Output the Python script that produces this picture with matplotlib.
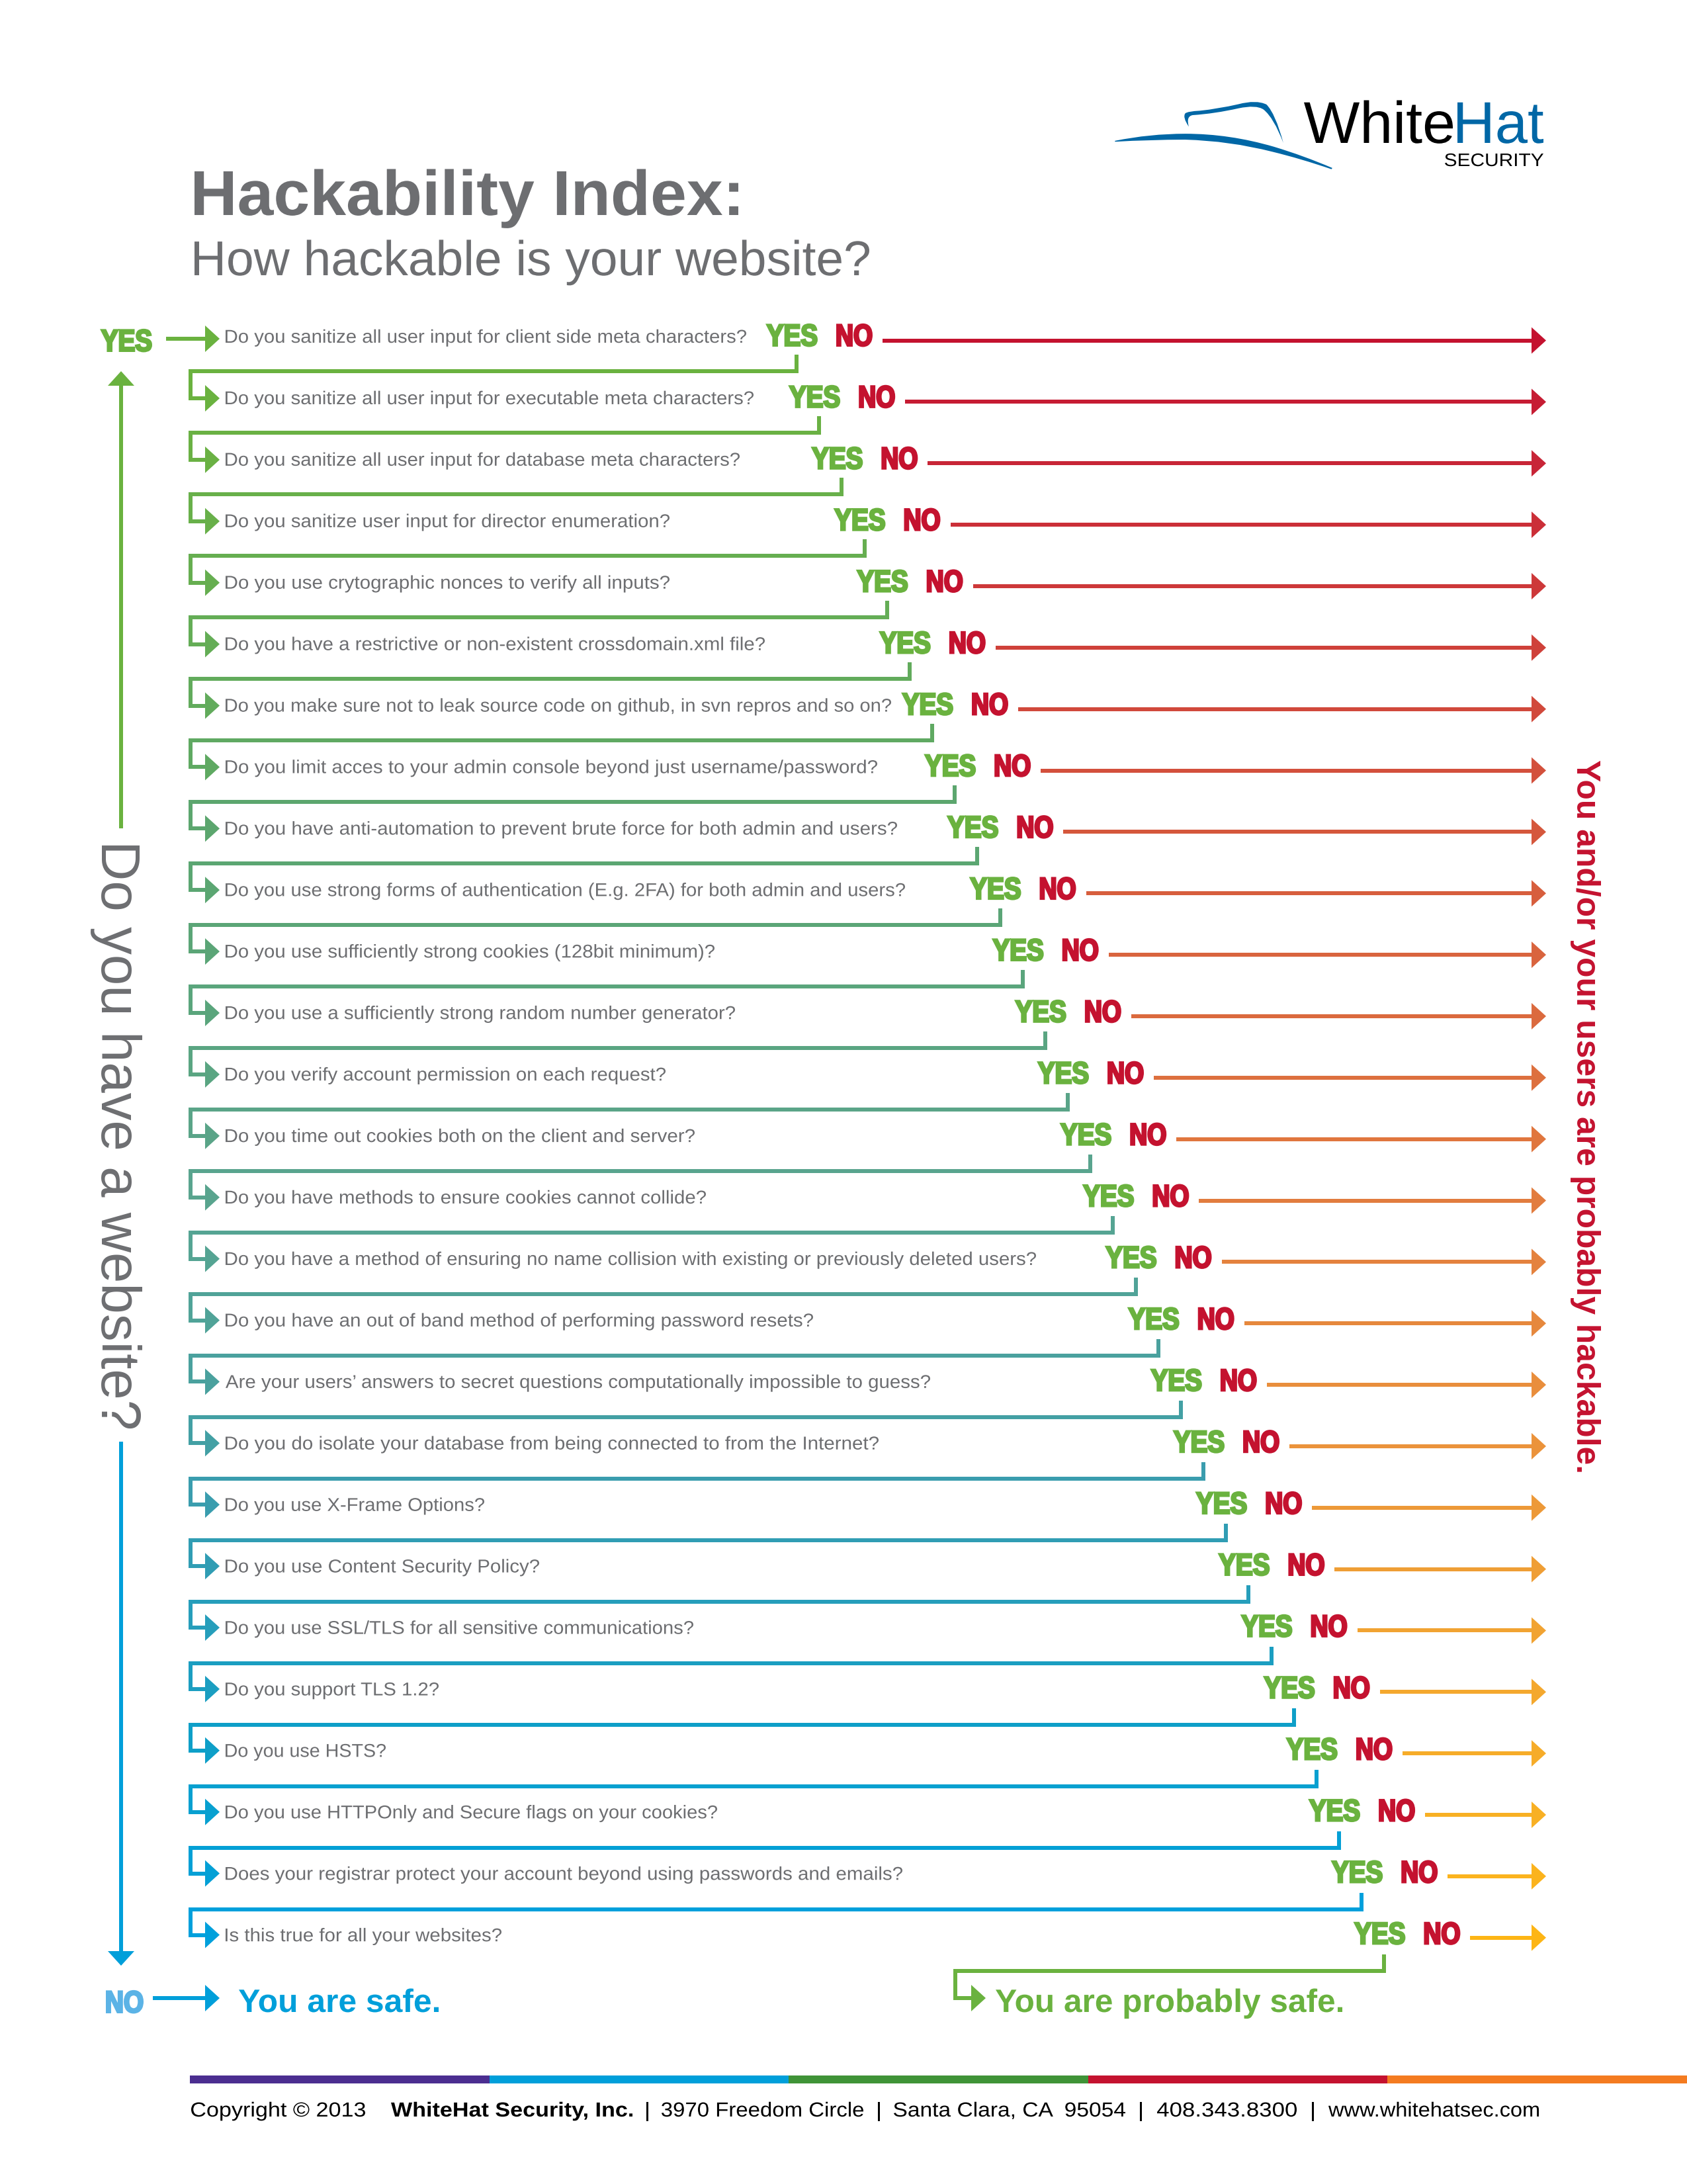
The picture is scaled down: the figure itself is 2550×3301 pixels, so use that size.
# Hackability Index flowchart, drawn on a full page axes in pixel units
import matplotlib
matplotlib.use("Agg")
import matplotlib.pyplot as plt
from matplotlib.font_manager import FontProperties
from matplotlib.patches import PathPatch, Polygon, Rectangle
from matplotlib.path import Path
from matplotlib.textpath import TextPath
from matplotlib.transforms import Affine2D
import matplotlib.patheffects as pe

questions = [
    "Do you sanitize all user input for client side meta characters?",
    "Do you sanitize all user input for executable meta characters?",
    "Do you sanitize all user input for database meta characters?",
    "Do you sanitize user input for director enumeration?",
    "Do you use crytographic nonces to verify all inputs?",
    "Do you have a restrictive or non-existent crossdomain.xml file?",
    "Do you make sure not to leak source code on github, in svn repros and so on?",
    "Do you limit acces to your admin console beyond just username/password?",
    "Do you have anti-automation to prevent brute force for both admin and users?",
    "Do you use strong forms of authentication (E.g. 2FA) for both admin and users?",
    "Do you use sufficiently strong cookies (128bit minimum)?",
    "Do you use a sufficiently strong random number generator?",
    "Do you verify account permission on each request?",
    "Do you time out cookies both on the client and server?",
    "Do you have methods to ensure cookies cannot collide?",
    "Do you have a method of ensuring no name collision with existing or previously deleted users?",
    "Do you have an out of band method of performing password resets?",
    "Are your users’ answers to secret questions computationally impossible to guess?",
    "Do you do isolate your database from being connected to from the Internet?",
    "Do you use X-Frame Options?",
    "Do you use Content Security Policy?",
    "Do you use SSL/TLS for all sensitive communications?",
    "Do you support TLS 1.2?",
    "Do you use HSTS?",
    "Do you use HTTPOnly and Secure flags on your cookies?",
    "Does your registrar protect your account beyond using passwords and emails?",
    "Is this true for all your websites?",
]
# where each question ends on the page, px
question_ends = [
    1128, 1139, 1118, 1012, 1012, 1156, 1347, 1326, 1356, 1368, 1080, 1111, 1006, 1050,
    1067, 1566, 1229, 1406, 1328, 732, 815, 1048, 663, 583, 1084, 1364, 758,
]

yes_colors = [
    "#6AB23F", "#6AB23F", "#6AB144", "#68B04A", "#66AE50", "#64AD56", "#62AB5C",
    "#5FA962", "#5CA66E", "#5BA672", "#5BA577", "#5AA57C", "#5AA582", "#5AA488",
    "#59A48E", "#55A493", "#50A398", "#4AA19E", "#43A0A4", "#3A9DAE", "#309DB4",
    "#269EBB", "#1B9EC1", "#0E9FC8", "#08A0D0", "#04A0D6", "#00A0DC",
]
no_colors = [
    "#C4122F", "#C61C33", "#C82537", "#CB2F38", "#CD3839", "#CF413A", "#D1493B",
    "#D3503C", "#D5573C", "#D75E3D", "#D9643E", "#DB6A3E", "#DD703E", "#E0763E",
    "#E27C3E", "#E4823E", "#E6883D", "#E98E3C", "#EB933B", "#ED9938", "#EF9E35",
    "#F1A332", "#F4A82E", "#F6AC29", "#F8B024", "#FBB31D", "#FDB515",
]
bar_colors = ["#4B2E90", "#009FDA", "#3F9337", "#C4122F", "#F47B20"]
bar_edges = [287, 740, 1192, 1645, 2097, 2550]

footer_parts = [
    (289, 263, "Copyright © 2013", "normal"),
    (591, 365, "WhiteHat Security, Inc.", "bold"),
    (977, 3, "|", "normal"),
    (1000, 305, "3970 Freedom Circle", "normal"),
    (1327, 3, "|", "normal"),
    (1351, 350, "Santa Clara, CA  95054", "normal"),
    (1723, 3, "|", "normal"),
    (1749, 211, "408.343.8300", "normal"),
    (1983, 3, "|", "normal"),
    (2008, 318, "www.whitehatsec.com", "normal"),
]

GREY = "#6D6E71"
GREEN = "#6AB23F"
RED = "#C4122F"
BLUE = "#009FDA"
LOGO_BLUE = "#0067A6"
DPI = 300
LW = 6 * 72 / DPI
SANS = "Liberation Sans"


def pt(px):
    return px * 72 / DPI


class Squeeze(pe.AbstractPathEffect):
    # scales the glyph outlines along x around x0, optional outline for a heavier look
    def __init__(self, x0, sx, stroke, color):
        super().__init__()
        self.tr = Affine2D().translate(-x0, 0).scale(sx, 1).translate(x0, 0)
        self.stroke = stroke
        self.color = color

    def draw_path(self, renderer, gc, tpath, affine, rgbFace=None):
        gc0 = renderer.new_gc()
        gc0.copy_properties(gc)
        gc0.set_linewidth(self.stroke)
        gc0.set_foreground(self.color)
        gc0.set_joinstyle("miter")
        renderer.draw_path(gc0, tpath, affine + self.tr, rgbFace)
        gc0.restore()


def extents(s, em, weight):
    fp = FontProperties(family=SANS, weight=weight)
    return TextPath((0, 0), s, size=em, prop=fp).get_extents()


fig = plt.figure(figsize=(2550 / DPI, 3301 / DPI), dpi=DPI)
ax = fig.add_axes([0, 0, 1, 1])
ax.set_xlim(0, 2550)
ax.set_ylim(3301, 0)
ax.axis("off")


def line(xs, ys, color):
    ax.plot(xs, ys, color=color, lw=LW, solid_capstyle="butt", solid_joinstyle="miter")


def head(tip_x, tip_y, dx, dy, color):
    # triangle head, 22 px long, 40 px wide
    if dx:
        pts = [(tip_x, tip_y), (tip_x - dx * 22, tip_y - 20), (tip_x - dx * 22, tip_y + 20)]
    else:
        pts = [(tip_x, tip_y), (tip_x - 20, tip_y - dy * 22), (tip_x + 20, tip_y - dy * 22)]
    ax.add_patch(Polygon(pts, closed=True, fc=color, ec="none"))


def fitted(x, y, s, color, em, width, weight="normal", stroke=0):
    # text whose ink runs from x to x + width
    ext = extents(s, em, weight)
    sx = width / ext.width
    t = ax.text(x - ext.x0 * sx, y, s, color=color, fontsize=pt(em), fontweight=weight,
                family=SANS, ha="left", va="baseline")
    t.set_path_effects([Squeeze(x - ext.x0 * sx, sx, pt(stroke), color)])
    return t


def side_text(x, y, s, color, em, width, weight="normal"):
    # rotated text, reads downward from y with its baseline on x
    ext = extents(s, em, weight)
    em = em * width / ext.width
    ax.text(x, y, s, color=color, fontsize=pt(em), fontweight=weight, family=SANS,
            ha="left", va="baseline", rotation=-90, rotation_mode="anchor")


def stencil(x, y, s, color, width):
    fitted(x + 1.5, y - 1.5, s, color, 46, width - 3, weight="bold", stroke=3)


# rows
for k, q in enumerate(questions):
    yes_x = 1158 + 34.17 * k
    arrow_y = 512 if k == 0 else 602 + 92.9 * (k - 1)
    text_y = 518 + 92.93 * k
    stencil_y = 524 + 92.9 * k
    no_y = 514.6 + 92.85 * k
    fitted(341, text_y, q, GREY, 28, question_ends[k] - 341)
    stencil(yes_x, stencil_y, "YES", GREEN, 78)
    stencil(yes_x + 106, stencil_y, "NO", RED, 55)
    line([1334 + 34.17 * k, 2320], [no_y, no_y], no_colors[k])
    head(2337, no_y, 1, 0, no_colors[k])
    head(332, arrow_y, 1, 0, yes_colors[k])
    if k > 0:
        c_y = 561 + 93 * (k - 1)
        c_x = 1204 + 34.17 * (k - 1)
        line([c_x, c_x, 288, 288, 315], [c_y - 25, c_y, c_y, arrow_y, arrow_y], yes_colors[k])

# last connector, to the probably safe message
last_x = 1204 + 34.17 * 26
line([last_x, last_x, 1444, 1444, 1475], [2954, 2979, 2979, 3020, 3020], GREEN)
head(1490, 3020, 1, 0, GREEN)
fitted(1505, 3041, "You are probably safe.", GREEN, 49, 524, weight="bold")

# left column
stencil(152, 532, "YES", GREEN, 78)
line([251, 315], [512, 512], GREEN)
line([183, 183], [1252, 575], GREEN)
head(183, 561, 0, -1, GREEN)
line([183, 183], [2179, 2955], BLUE)
head(183, 2971, 0, 1, BLUE)
stencil(160, 3043, "NO", "#5BB3E6", 57)
line([231, 315], [3020, 3020], BLUE)
head(332, 3020, 1, 0, BLUE)
fitted(361, 3041, "You are safe.", BLUE, 49, 302, weight="bold")

# side texts
side_text(153, 1270, "Do you have a website?", GREY, 84, 881)
side_text(2383, 1148, "You and/or your users are probably hackable.", RED, 50, 1075, weight="bold")

# title
fitted(294, 325, "Hackability Index:", GREY, 96, 822, weight="bold")
fitted(294, 416, "How hackable is your website?", GREY, 74, 1020)

# logo
fitted(1971, 216, "White", "black", 89, 225)
fitted(2203, 216, "Hat", LOGO_BLUE, 89, 130)
fitted(2184, 251, "SECURITY", "black", 27.4, 149)


def logo_xy(pts):
    return [(1680 + x * 0.4464, 120 + y * 0.4464) for x, y in pts]


brim = [(12, 208), (130, 184), (250, 184), (400, 184), (550, 228), (650, 258), (748, 300),
        (745, 304), (640, 268), (545, 245), (400, 208), (250, 204), (130, 204), (12, 211)]
crown = [(262, 160), (240, 128), (250, 115), (258, 108), (300, 106), (360, 100), (430, 84),
         (490, 68), (525, 85), (555, 115), (582, 215), (550, 130), (515, 102), (490, 85),
         (430, 98), (350, 116), (275, 121), (252, 125), (262, 160)]
brim_codes = [Path.MOVETO] + [Path.CURVE3] * 6 + [Path.LINETO] + [Path.CURVE3] * 6
crown_codes = [Path.MOVETO] + [Path.CURVE3] * 18
ax.add_patch(PathPatch(Path(logo_xy(brim), brim_codes), fc=LOGO_BLUE, ec="none"))
ax.add_patch(PathPatch(Path(logo_xy(crown), crown_codes), fc=LOGO_BLUE, ec="none"))

# footer bar and address
for i, c in enumerate(bar_colors):
    ax.add_patch(Rectangle((bar_edges[i], 3137), bar_edges[i + 1] - bar_edges[i], 12, fc=c, ec="none"))
for x, w, s, weight in footer_parts:
    fitted(x, 3199, s, "black", 30.7, w, weight=weight)

fig.savefig("out.png", dpi=DPI)
